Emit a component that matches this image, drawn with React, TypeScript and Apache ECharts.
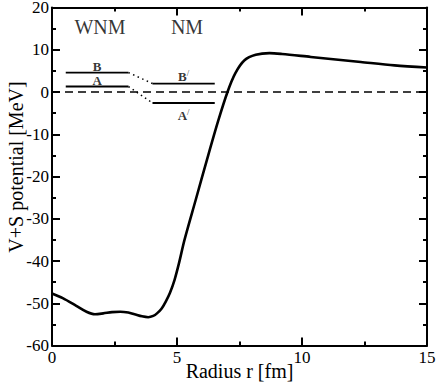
import { useEffect, useRef } from "react";
import * as echarts from "echarts";

// V+S potential curve
const radius = [0, 0.43, 0.97, 1.38, 1.72, 2.05, 2.4, 2.73, 3.05, 3.3, 3.6, 3.85, 4.05, 4.2, 4.38, 4.55, 4.72, 4.9, 5.08, 5.3, 5.75, 6.2, 6.65, 7.02, 7.33, 7.7, 8.15, 8.7, 9.2, 10.35, 12.35, 13.7, 15];
const potential = [-47.7, -48.8, -50.6, -52.0, -52.6, -52.4, -52.1, -52.0, -52.2, -52.6, -53.1, -53.3, -53.0, -52.4, -51.3, -49.6, -47.5, -44.5, -40.5, -35.0, -25.5, -16.0, -6.8, 0, 4.4, 7.5, 8.8, 9.2, 9.0, 8.3, 7.1, 6.3, 5.8];

// single-particle levels
const wnmNames = ["B", "A"];
const wnmLevels = [4.6, 1.3];
const wnmRange = [0.55, 3.06];
const nmNames = ["B", "A"];
const nmLevels = [2.0, -2.6];
const nmRange = [4.02, 6.51];

// region labels
const regionNames = ["WNM", "NM"];
const regionR = [1.92, 5.4];
const regionV = [15.3, 15.3];

// axes
const xMin = 0, xMax = 15, xStep = 5;
const yMin = -60, yMax = 20, yStep = 10;

const FONT = "Liberation Serif, Times New Roman, serif";

export default function App() {
  const ref = useRef<HTMLDivElement>(null);
  useEffect(() => {
    if (!ref.current) return;
    const chart = echarts.init(ref.current, undefined, { renderer: "svg" });
    const axisCommon = (show: boolean) => ({
      type: "value" as const,
      axisLine: { show: true, onZero: false, lineStyle: { color: "#000", width: 2 } },
      axisTick: { show: true, inside: true, length: 8, lineStyle: { color: "#000", width: 2 } },
      minorTick: { show: true, splitNumber: 2, length: 4, lineStyle: { color: "#000", width: 2 } },
      splitLine: { show: false },
      axisLabel: { show, color: "#000", fontFamily: FONT, fontSize: 17, margin: 3 },
    });
    const levelSeries: any[] = [];
    const mkLevel = (names: string[], levels: number[], range: number[], prime: boolean) => {
      names.forEach((n, i) => {
        levelSeries.push({
          type: "line",
          data: [[range[0], levels[i]], [range[1], levels[i]]],
          symbol: "none",
          lineStyle: { color: "#000", width: 1.8 },
          z: 3,
        });
        const below = prime && n === "A";
        levelSeries.push({
          type: "scatter",
          symbolSize: 0,
          data: [[(range[0] + range[1]) / 2, levels[i]]],
          label: {
            show: true,
            position: below ? "bottom" : "top",
            distance: below ? 5 : 0,
            formatter: prime ? `{m|${n}}{s|/}` : `{m|${n}}`,
            rich: {
              m: { fontFamily: FONT, fontSize: 13, fontWeight: "bold", color: "#000" },
              s: { fontFamily: FONT, fontSize: 9, color: "#000", verticalAlign: "top", padding: [0, 0, 6, 0] },
            },
          },
        });
      });
    };
    mkLevel(wnmNames, wnmLevels, wnmRange, false);
    mkLevel(nmNames, nmLevels, nmRange, true);
    const connectors = wnmLevels.map((lv, i) => ({
      type: "line",
      data: [[wnmRange[1], lv], [nmRange[0], nmLevels[i]]],
      symbol: "none",
      lineStyle: { color: "#000", width: 1.5, type: [1.5, 3.5] },
    }));

    chart.setOption({
      animation: false,
      textStyle: { fontFamily: FONT },
      grid: { left: 52, right: 9, top: 7.5, bottom: 41.5, containLabel: false, outerBoundsMode: "none" },
      xAxis: [
        {
          ...axisCommon(true),
          position: "bottom",
          min: xMin, max: xMax, interval: xStep,
          name: "Radius r [fm]",
          nameLocation: "middle",
          nameGap: 15,
          nameMoveOverlap: false,
          nameTextStyle: { fontFamily: FONT, fontSize: 20, color: "#000" },
        },
        { ...axisCommon(false), position: "top", min: xMin, max: xMax, interval: xStep },
      ],
      yAxis: [
        {
          ...axisCommon(true),
          position: "left",
          min: yMin, max: yMax, interval: yStep,
          name: "V+S potential [MeV]",
          nameLocation: "middle",
          nameGap: 26,
          nameRotate: 90,
          nameMoveOverlap: false,
          nameTextStyle: { fontFamily: FONT, fontSize: 20, color: "#000", padding: [0, 0, 0, 19] },
        },
        { ...axisCommon(false), position: "right", min: yMin, max: yMax, interval: yStep },
      ],
      series: [
        {
          type: "line",
          data: [[xMin, 0], [xMax, 0]],
          symbol: "none",
          lineStyle: { color: "#000", width: 1.6, type: [8, 5] },
        },
        {
          type: "line",
          data: radius.map((r, i) => [r, potential[i]]),
          symbol: "none",
          smooth: 0.3,
          lineStyle: { color: "#000", width: 2.6 },
          z: 4,
        },
        ...levelSeries,
        ...connectors,
        {
          type: "scatter",
          symbolSize: 0,
          data: regionNames.map((n, i) => ({ value: [regionR[i], regionV[i]], name: n })),
          label: {
            show: true,
            position: "inside",
            formatter: (p: any) => p.name,
            fontFamily: FONT,
            fontSize: 20,
            color: "#000",
          },
        },
      ],
    });
    return () => chart.dispose();
  }, []);
  return <div ref={ref} style={{ width: 436, height: 387, position: "absolute", left: 0, top: 0 }} />;
}
